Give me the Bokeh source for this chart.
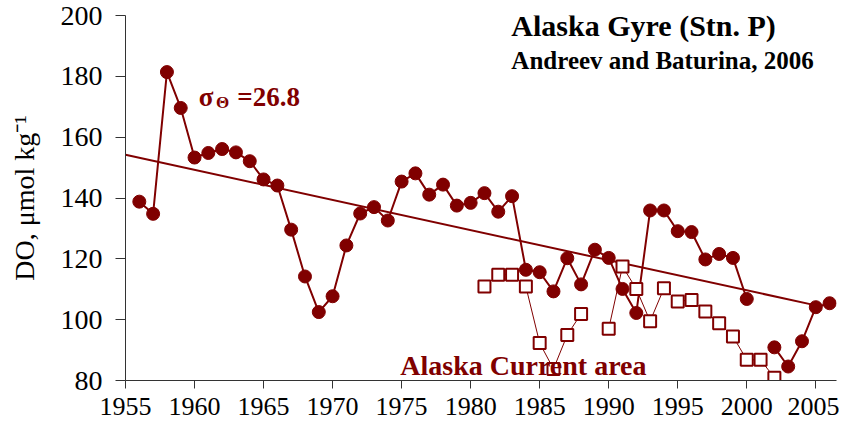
from bokeh.plotting import figure
from bokeh.models import Label, FixedTicker, Range1d
from bokeh.embed import file_html
from bokeh.resources import INLINE

nan = float("nan")

# Alaska Gyre (Stn. P), sigma-theta = 26.8
gyre_years = list(range(1956, 2007))
gyre_do = [
    138.8, 134.8, 181.4, 169.6, 153.3, 154.8, 156.1, 155.0, 152.1, 146.1,
    144.1, 129.6, 114.2, 102.5, 107.7, 124.4, 134.9, 137.0, 132.6, 145.4,
    148.1, 141.1, 144.4, 137.5, 138.4, 141.6, 135.5, 140.6, 116.4, 115.6,
    109.3, 120.2, 111.6, 123.0, 120.3, 110.1, 102.2, 135.9, 135.9, 129.1,
    128.8, 119.8, 121.6, 120.3, 106.8, nan, 90.9, 84.6, 92.9, 104.1,
    105.4,
]

# Alaska Current area
current_years = list(range(1981, 2003))
current_do = [
    110.9, 114.8, 114.8, 110.9, 92.3, 83.8, 95.0, 101.9, nan, 97.0,
    117.5, 110.1, 99.5, 110.3, 106.0, 106.5, 102.7, 98.8, 94.5, 86.8,
    86.8, 80.9,
]

# Linear trend (end points)
trend_years = [1955, 2005]
trend_do = [154.2, 104.7]

x_ticks = [1955, 1960, 1965, 1970, 1975, 1980, 1985, 1990, 1995, 2000, 2005]
y_ticks = [80, 100, 120, 140, 160, 180, 200]

RED = "#800000"
SERIF = "Times New Roman"

p = figure(
    width=839, height=427,
    output_backend="svg", toolbar_location=None,
    x_range=Range1d(1955, 2006.5), y_range=Range1d(80, 200),
    min_border_left=125, min_border_right=3,
    min_border_top=15, min_border_bottom=47,
)
p.outline_line_color = None
p.xgrid.visible = False
p.ygrid.visible = False
p.background_fill_color = "white"
p.border_fill_color = "white"

for ax in (p.xaxis[0], p.yaxis[0]):
    ax.axis_line_color = "#333333"
    ax.axis_line_width = 1
    ax.major_tick_line_color = "#333333"
    ax.major_tick_in = 0
    ax.minor_tick_in = 0
    ax.minor_tick_out = 0
    ax.major_label_text_font = SERIF
    ax.major_label_text_color = "black"

p.xaxis.ticker = FixedTicker(ticks=x_ticks, minor_ticks=[])
p.yaxis.ticker = FixedTicker(ticks=y_ticks, minor_ticks=[])
p.xaxis.major_tick_out = 8
p.yaxis.major_tick_out = 10
p.xaxis.major_label_text_font_size = "26px"
p.yaxis.major_label_text_font_size = "28px"
p.xaxis.major_label_standoff = 9
p.yaxis.major_label_standoff = 13

p.yaxis.axis_label = "DO, μmol kg⁻¹"
p.yaxis.axis_label_text_font = SERIF
p.yaxis.axis_label_text_font_style = "normal"
p.yaxis.axis_label_text_font_size = "28px"
p.yaxis.axis_label_text_color = "black"
p.yaxis.axis_label_standoff = 18

# trend
p.line(trend_years, trend_do, line_color=RED, line_width=2)
# Alaska Gyre
p.line(gyre_years, gyre_do, line_color=RED, line_width=2)
p.scatter(gyre_years, gyre_do, marker="circle", size=13,
          fill_color=RED, line_color=RED)
# Alaska Current area
p.line(current_years, current_do, line_color=RED, line_width=1)
p.scatter(current_years, current_do, marker="square", size=12,
          fill_color="white", line_color=RED, line_width=2)

def lab(x, y, text, size, color="black", bold=True):
    p.add_layout(Label(x=x, y=y, text=text, text_font=SERIF,
                       text_font_style="bold" if bold else "normal",
                       text_font_size=size, text_color=color,
                       text_baseline="alphabetic", text_align="left"))

lab(1982.95, 196.7, "Alaska Gyre (Stn. P)", "30px")
lab(1982.95, 185.2, "Andreev and Baturina, 2006", "25px")
lab(1960.3, 173.1, "σ", "27px", RED)
lab(1961.55, 171.3, "Θ", "17px", RED)
lab(1963.1, 173.1, "=26.8", "27px", RED)
lab(1974.9, 84.9, "Alaska Current area", "28px", RED)

open("out.html", "w").write(file_html(p, INLINE))
